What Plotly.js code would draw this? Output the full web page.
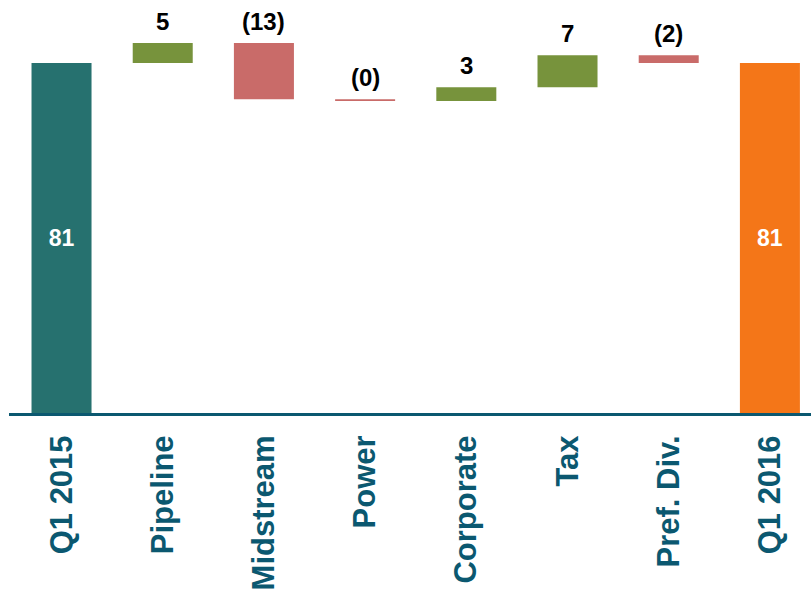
<!DOCTYPE html>
<html>
<head>
<meta charset="utf-8">
<script src="https://cdn.plot.ly/plotly-3.0.1.min.js"></script>
<style>
  html, body { margin: 0; padding: 0; background: #ffffff; }
  #chart { width: 811px; height: 595px; }
</style>
</head>
<body>
<div id="chart"></div>
<script>
// ---- data ----
const categories = ['Q1 2015', 'Pipeline', 'Midstream', 'Power', 'Corporate', 'Tax', 'Pref. Div.', 'Q1 2016'];
const values     = [81, 4.6, -13.0, -0.4, 3.2, 7.4, -1.8, 81];
const measures   = ['total', 'relative', 'relative', 'relative', 'relative', 'relative', 'relative', 'total'];

// ---- derived bar geometry (through the axes) ----
const bases = [], heights = [], colors = [], insideText = [];
let running = 0;
const firstTotal = measures.indexOf('total');
measures.forEach((m, i) => {
  const v = values[i];
  if (m === 'total') {
    bases.push(0); heights.push(v); running = v;
    colors.push(i === firstTotal ? '#26716F' : '#F47618');
    insideText.push(String(Math.round(v)));
  } else {
    bases.push(running); heights.push(v); running += v;
    colors.push(v >= 0 ? '#77933C' : '#C96B69');
    insideText.push('');
  }
});

const fmt = v => { const r = Math.round(Math.abs(v)); return v < 0 ? '(' + r + ')' : String(r); };
const annotations = [];
measures.forEach((m, i) => {
  if (m === 'relative') {
    annotations.push({
      x: categories[i], y: Math.max(bases[i], bases[i] + heights[i]),
      xref: 'x', yref: 'y', text: fmt(values[i]), showarrow: false,
      yanchor: 'bottom', yshift: 6,
      font: { family: 'Liberation Sans, Arial, sans-serif', size: 24, color: '#000000', weight: 'bold' }
    });
  }
});

const trace = {
  type: 'bar',
  x: categories,
  y: heights,
  base: bases,
  width: 0.593,
  marker: { color: colors, line: { width: 0 } },
  text: insideText,
  textposition: 'inside',
  insidetextanchor: 'middle',
  textangle: 0,
  constraintext: 'none',
  textfont: { family: 'Liberation Sans, Arial, sans-serif', size: 23, color: '#ffffff', weight: 'bold' },
  hoverinfo: 'skip'
};

const layout = {
  width: 811, height: 595,
  margin: { l: 9, r: 0, t: 0, b: 182, pad: 0 },
  paper_bgcolor: '#ffffff', plot_bgcolor: '#ffffff',
  showlegend: false,
  xaxis: {
    type: 'category',
    range: [-0.519, 7.406],
    showgrid: false, zeroline: false,
    showline: true, linecolor: '#0B5870', linewidth: 3,
    ticks: 'outside', ticklen: 7, tickcolor: 'rgba(0,0,0,0)',
    tickangle: -90, automargin: false,
    tickfont: { family: 'Liberation Sans, Arial, sans-serif', size: 31, color: '#0B5870', weight: 'bold' }
  },
  yaxis: {
    range: [0, 95.58], visible: false, showgrid: false, zeroline: false, fixedrange: true
  },
  annotations: annotations
};

Plotly.newPlot('chart', [trace], layout, { displayModeBar: false, staticPlot: true });
</script>
</body>
</html>
